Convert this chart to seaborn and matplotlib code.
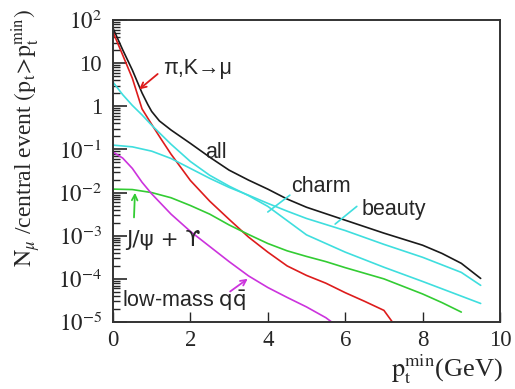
import numpy as np
import pandas as pd
import matplotlib
matplotlib.use("Agg")
import matplotlib.pyplot as plt
import matplotlib.ticker as mticker
import seaborn as sns

# ---- data (stored as log10 of N) ----
all_pt = [0, 0.25, 0.5, 0.75, 0.9, 1.0, 1.2, 1.5, 2, 2.5, 3, 3.5, 4, 4.5, 5, 5.5, 6, 7, 8,
          8.5, 9, 9.5]
all_log = [1.81, 1.31, 0.84, 0.31, 0.04, -0.12, -0.34, -0.55, -0.86, -1.18, -1.48, -1.71,
           -1.92, -2.15, -2.34, -2.49, -2.64, -2.94, -3.22, -3.41, -3.64, -3.99]

pik_pt = [0, 0.25, 0.5, 0.75, 1, 1.25, 1.5, 2, 2.5, 3, 3.5, 4, 4.5, 5, 5.5, 6, 6.5, 7, 7.3]
pik_log = [1.72, 1.19, 0.65, -0.06, -0.42, -0.77, -1.11, -1.72, -2.2, -2.62, -3.03, -3.38,
           -3.7, -3.92, -4.1, -4.32, -4.52, -4.73, -5.1]

charm_pt = [0, 0.25, 0.5, 0.75, 1, 1.5, 2, 2.5, 3, 3.5, 4, 4.5, 5, 6, 7, 8, 9, 9.5]
charm_log = [0.56, 0.27, 0.02, -0.2, -0.44, -0.88, -1.28, -1.6, -1.85, -2.07, -2.32, -2.65,
             -2.98, -3.38, -3.73, -4.06, -4.4, -4.57]

beauty_pt = [0, 0.5, 1, 1.5, 2, 2.5, 3, 3.5, 4, 4.5, 5, 6, 7, 8, 9, 9.5]
beauty_log = [-0.9, -0.94, -1.04, -1.21, -1.44, -1.67, -1.88, -2.06, -2.25, -2.43, -2.6,
              -2.88, -3.2, -3.5, -3.85, -4.15]

onium_pt = [0, 0.5, 1, 1.5, 2, 2.5, 3, 3.5, 4, 4.5, 5, 5.5, 6, 7, 8, 8.5, 9]
onium_log = [-1.92, -1.93, -2.0, -2.12, -2.3, -2.5, -2.75, -2.97, -3.18, -3.35, -3.48,
             -3.6, -3.74, -4.0, -4.35, -4.55, -4.77]

lowmass_pt = [0, 0.25, 0.5, 0.75, 1, 1.5, 2, 2.5, 3, 3.5, 4, 4.5, 5, 5.5, 5.8]
lowmass_log = [-1.06, -1.2, -1.44, -1.76, -2.03, -2.5, -2.9, -3.25, -3.6, -3.93, -4.2,
               -4.43, -4.65, -4.9, -5.1]

series_names = ["all", "pik", "charm", "beauty", "onium", "lowmass"]
series_pt = [all_pt, pik_pt, charm_pt, beauty_pt, onium_pt, lowmass_pt]
series_log = [all_log, pik_log, charm_log, beauty_log, onium_log, lowmass_log]

frames = []
for name, pt, lg in zip(series_names, series_pt, series_log):
    frames.append(pd.DataFrame({"pt": pt, "N": 10.0 ** np.asarray(lg), "series": name}))
df = pd.concat(frames, ignore_index=True)

colors = {"all": "#1a1a1a", "pik": "#dd1c1c", "charm": "#3fdede",
          "beauty": "#3fdede", "onium": "#33cc33", "lowmass": "#cc33dd"}

# ---- style ----
sns.set_style("ticks")
plt.rcParams["font.family"] = ["Liberation Serif", "DejaVu Serif"]
plt.rcParams["mathtext.fontset"] = "stix"

fig = plt.figure(figsize=(5.15, 3.89), dpi=100)
ax = fig.add_axes([0.2194, 0.1722, 0.7515, 0.7764])

sns.lineplot(data=df, x="pt", y="N", hue="series", palette=colors, legend=False,
             ax=ax, sort=False, estimator=None, linewidth=1.2)

ax.set_yscale("log")
ax.set_xlim(0, 10)
ax.set_ylim(1e-5, 1e2)
ax.set_xlabel("")
ax.set_ylabel("")

def yfmt(v, pos):
    e = int(round(np.log10(v)))
    if e == 1:
        return "10"
    if e == 0:
        return "1"
    return r"$10^{%d}$" % e

ax.yaxis.set_major_locator(mticker.LogLocator(base=10, numticks=10))
ax.yaxis.set_minor_locator(mticker.LogLocator(base=10, subs=np.arange(2, 10), numticks=10))
ax.yaxis.set_major_formatter(mticker.FuncFormatter(yfmt))
ax.yaxis.set_minor_formatter(mticker.NullFormatter())
ax.set_xticks([0, 2, 4, 6, 8, 10])
ax.xaxis.set_minor_locator(mticker.NullLocator())

ax.tick_params(axis="y", which="major", direction="in", length=10, width=1.2,
               labelsize=16.5, pad=8, right=False)
ax.tick_params(axis="y", which="minor", direction="in", length=5, width=1.0, right=False)
ax.tick_params(axis="x", which="major", direction="in", length=7, width=1.0,
               labelsize=16.5, pad=6, top=False)
for s in ax.spines.values():
    s.set_linewidth(1.4)
    s.set_color("#333333")

# axis titles
fig.text(0.052, 0.645,
         r"$\mathrm{N}_{\mu}$ /central event $(\mathrm{p}_{\mathrm{t}}\!>\!\mathrm{p}_{\mathrm{t}}^{\mathrm{min}})$",
         rotation=90, ha="center", va="center", fontsize=17)
fig.text(0.977, 0.05, r"$\mathrm{p}_{\mathrm{t}}^{\mathrm{min}}$(GeV)",
         ha="right", va="center", fontsize=19)

# curve labels
lab = dict(fontsize=15.5, family=["Liberation Sans", "DejaVu Sans"])
ax.text(1.29, 10 ** 0.886, "π,K→μ", va="center", ha="left", **lab)
ax.annotate("", xy=(0.62, 10 ** 0.35), xytext=(1.21, 10 ** 0.79),
            arrowprops=dict(arrowstyle="->", color=colors["pik"], lw=1.3))
ax.text(2.38, 10 ** -1.06, "all", va="center", ha="left", **lab)
ax.text(4.6, 10 ** -1.85, "charm", va="center", ha="left", **lab)
ax.plot([4.57, 4.0], [10 ** -2.06, 10 ** -2.45], color=colors["charm"], lw=1.2)
ax.text(6.43, 10 ** -2.39, "beauty", va="center", ha="left", **lab)
ax.plot([6.3, 5.74], [10 ** -2.32, 10 ** -2.73], color=colors["beauty"], lw=1.2)
ax.text(0.33, 10 ** -3.1, "J/ψ + ϒ", va="center", ha="left", fontsize=15.5,
        family=["DejaVu Sans"])
ax.annotate("", xy=(0.57, 10 ** -1.94), xytext=(0.54, 10 ** -2.64),
            arrowprops=dict(arrowstyle="->", color=colors["onium"], lw=1.3))
ax.text(0.23, 10 ** -4.5, r"low-mass $\mathrm{q\bar{q}}$", va="center", ha="left",
        math_fontfamily="dejavusans", **lab)
ax.annotate("", xy=(3.54, 10 ** -3.96), xytext=(2.97, 10 ** -4.33),
            arrowprops=dict(arrowstyle="->", color=colors["lowmass"], lw=1.3))

fig.savefig("out.png", dpi=100)
